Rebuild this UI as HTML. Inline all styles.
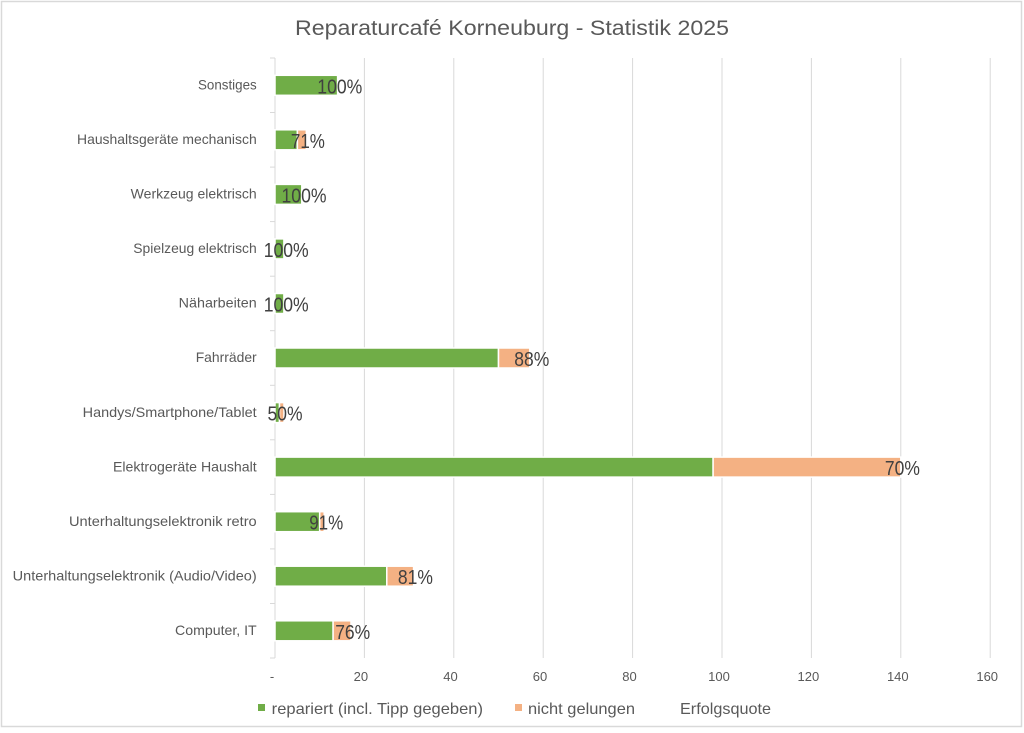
<!DOCTYPE html>
<html>
<head>
<meta charset="utf-8">
<style>
html,body{margin:0;padding:0;background:#fff;}
svg{display:block;}
text{font-family:"Liberation Sans",sans-serif;}
</style>
</head>
<body>
<svg width="1024" height="733" viewBox="0 0 1024 733" xmlns="http://www.w3.org/2000/svg">
<rect x="0" y="0" width="1024" height="733" fill="#fff"/>
<rect x="1.5" y="1.5" width="1020" height="725" fill="#fff" stroke="#d9d9d9" stroke-width="1.5"/>

<!-- Title -->
<text x="295" y="35" font-size="21.5" fill="#595959" textLength="434" lengthAdjust="spacingAndGlyphs">Reparaturcafé Korneuburg - Statistik 2025</text>

<!-- Gridlines -->
<g stroke="#d9d9d9" stroke-width="1">
<line x1="364.4" y1="58" x2="364.4" y2="658"/>
<line x1="453.8" y1="58" x2="453.8" y2="658"/>
<line x1="543.2" y1="58" x2="543.2" y2="658"/>
<line x1="632.6" y1="58" x2="632.6" y2="658"/>
<line x1="722" y1="58" x2="722" y2="658"/>
<line x1="811.4" y1="58" x2="811.4" y2="658"/>
<line x1="900.8" y1="58" x2="900.8" y2="658"/>
<line x1="990.2" y1="58" x2="990.2" y2="658"/>
<!-- axis -->
<line x1="275" y1="58" x2="275" y2="658"/>
<line x1="270" y1="58" x2="275" y2="58"/>
<line x1="270" y1="112.5" x2="275" y2="112.5"/>
<line x1="270" y1="167.1" x2="275" y2="167.1"/>
<line x1="270" y1="221.6" x2="275" y2="221.6"/>
<line x1="270" y1="276.2" x2="275" y2="276.2"/>
<line x1="270" y1="330.7" x2="275" y2="330.7"/>
<line x1="270" y1="385.3" x2="275" y2="385.3"/>
<line x1="270" y1="439.8" x2="275" y2="439.8"/>
<line x1="270" y1="494.4" x2="275" y2="494.4"/>
<line x1="270" y1="548.9" x2="275" y2="548.9"/>
<line x1="270" y1="603.5" x2="275" y2="603.5"/>
<line x1="270" y1="658" x2="275" y2="658"/>
</g>

<!-- Bars (scale 4.47 px/unit, origin 275) -->
<g stroke="#fff" stroke-width="1.5">
<!-- Sonstiges 14/0 -->
<rect x="275" y="75.3" width="62.6" height="20" fill="#70AD47"/>
<!-- Haushaltsgeräte mechanisch 5/2 -->
<rect x="275" y="129.8" width="22.4" height="20" fill="#70AD47"/>
<rect x="297.4" y="129.8" width="8.9" height="20" fill="#F4B183"/>
<!-- Werkzeug 6 -->
<rect x="275" y="184.4" width="26.8" height="20" fill="#70AD47"/>
<!-- Spielzeug 2 -->
<rect x="275" y="238.9" width="8.9" height="20" fill="#70AD47"/>
<!-- Näharbeiten 2 -->
<rect x="275" y="293.5" width="8.9" height="20" fill="#70AD47"/>
<!-- Fahrräder 50/7 -->
<rect x="275" y="348" width="223.5" height="20" fill="#70AD47"/>
<rect x="498.5" y="348" width="31.3" height="20" fill="#F4B183"/>
<!-- Handys 1/1 -->
<rect x="275" y="402.6" width="4.5" height="20" fill="#70AD47"/>
<rect x="279.5" y="402.6" width="4.5" height="20" fill="#F4B183"/>
<!-- Elektrogeräte 98/42 -->
<rect x="275" y="457.1" width="438.1" height="20" fill="#70AD47"/>
<rect x="713.1" y="457.1" width="187.7" height="20" fill="#F4B183"/>
<!-- retro 10/1 -->
<rect x="275" y="511.7" width="44.7" height="20" fill="#70AD47"/>
<rect x="319.7" y="511.7" width="4.5" height="20" fill="#F4B183"/>
<!-- Audio/Video 25/6 -->
<rect x="275" y="566.2" width="111.8" height="20" fill="#70AD47"/>
<rect x="386.8" y="566.2" width="26.8" height="20" fill="#F4B183"/>
<!-- Computer 13/4 -->
<rect x="275" y="620.8" width="58.1" height="20" fill="#70AD47"/>
<rect x="333.1" y="620.8" width="17.9" height="20" fill="#F4B183"/>
</g>

<!-- Data labels -->
<g font-size="20" fill="#404040" text-anchor="middle">
<text x="339.8" y="93.3" textLength="45" lengthAdjust="spacingAndGlyphs">100%</text>
<text x="307.9" y="147.8" textLength="34" lengthAdjust="spacingAndGlyphs">71%</text>
<text x="304" y="202.4" textLength="45" lengthAdjust="spacingAndGlyphs">100%</text>
<text x="286.2" y="256.9" textLength="45" lengthAdjust="spacingAndGlyphs">100%</text>
<text x="286.2" y="311.5" textLength="45" lengthAdjust="spacingAndGlyphs">100%</text>
<text x="531.8" y="366" textLength="35" lengthAdjust="spacingAndGlyphs">88%</text>
<text x="285" y="420.6" textLength="35" lengthAdjust="spacingAndGlyphs">50%</text>
<text x="902.4" y="475.1" textLength="35" lengthAdjust="spacingAndGlyphs">70%</text>
<text x="326.2" y="529.7" textLength="34" lengthAdjust="spacingAndGlyphs">91%</text>
<text x="415.4" y="584.2" textLength="35" lengthAdjust="spacingAndGlyphs">81%</text>
<text x="352.7" y="638.8" textLength="35" lengthAdjust="spacingAndGlyphs">76%</text>
</g>

<!-- Category labels -->
<g font-size="14" fill="#595959" text-anchor="end">
<text x="256.7" y="89.5" textLength="58.7" lengthAdjust="spacingAndGlyphs">Sonstiges</text>
<text x="256.7" y="144" textLength="179.7" lengthAdjust="spacingAndGlyphs">Haushaltsgeräte mechanisch</text>
<text x="256.7" y="198.6" textLength="126" lengthAdjust="spacingAndGlyphs">Werkzeug elektrisch</text>
<text x="256.7" y="253.1" textLength="123.4" lengthAdjust="spacingAndGlyphs">Spielzeug elektrisch</text>
<text x="256.7" y="307.7" textLength="78" lengthAdjust="spacingAndGlyphs">Näharbeiten</text>
<text x="256.7" y="362.2" textLength="61" lengthAdjust="spacingAndGlyphs">Fahrräder</text>
<text x="256.7" y="416.8" textLength="174" lengthAdjust="spacingAndGlyphs">Handys/Smartphone/Tablet</text>
<text x="256.7" y="471.3" textLength="143.7" lengthAdjust="spacingAndGlyphs">Elektrogeräte Haushalt</text>
<text x="256.7" y="525.9" textLength="187.7" lengthAdjust="spacingAndGlyphs">Unterhaltungselektronik retro</text>
<text x="256.7" y="580.4" textLength="244" lengthAdjust="spacingAndGlyphs">Unterhaltungselektronik (Audio/Video)</text>
<text x="256.7" y="635" textLength="81.7" lengthAdjust="spacingAndGlyphs">Computer, IT</text>
</g>

<!-- X tick labels -->
<g font-size="13" fill="#595959" text-anchor="middle">
<text x="272" y="681">-</text>
<text x="360.9" y="681">20</text>
<text x="450.5" y="681">40</text>
<text x="540" y="681">60</text>
<text x="629.5" y="681">80</text>
<text x="719" y="681">100</text>
<text x="808.4" y="681">120</text>
<text x="897.8" y="681">140</text>
<text x="987.2" y="681">160</text>
</g>

<!-- Legend -->
<rect x="258" y="704" width="7" height="7" fill="#70AD47"/>
<text x="271.7" y="714" font-size="16" fill="#595959" textLength="211.3" lengthAdjust="spacingAndGlyphs">repariert (incl. Tipp gegeben)</text>
<rect x="515" y="704" width="7" height="7" fill="#F4B183"/>
<text x="528" y="714" font-size="16" fill="#595959" textLength="107" lengthAdjust="spacingAndGlyphs">nicht gelungen</text>
<text x="680" y="714" font-size="16" fill="#595959" textLength="91" lengthAdjust="spacingAndGlyphs">Erfolgsquote</text>
</svg>
</body>
</html>
